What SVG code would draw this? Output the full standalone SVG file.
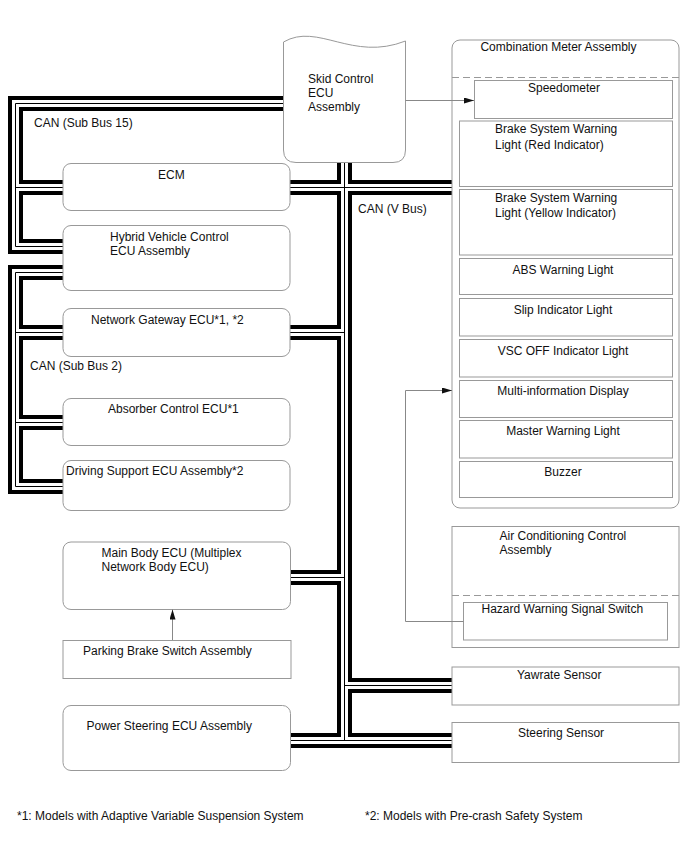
<svg xmlns="http://www.w3.org/2000/svg" xmlns:xlink="http://www.w3.org/1999/xlink" width="688" height="852" viewBox="0 0 688 852">
<style>
  text { font-family: "Liberation Sans", Arial, sans-serif; font-size: 12px; fill: #111; }
  .box { fill: #fff; stroke: #999; stroke-width: 1; }
  .dash { fill: none; stroke: #999; stroke-width: 1; stroke-dasharray: 7 4; }
  .conn { fill: none; stroke: #888; stroke-width: 1; }
  .b1 { fill: none; stroke: #000; stroke-width: 15; stroke-linejoin: miter; stroke-linecap: butt; }
  .b2 { fill: none; stroke: #fff; stroke-width: 7; stroke-linejoin: miter; stroke-linecap: butt; }
  .b3 { fill: none; stroke: #000; stroke-width: 1; stroke-linejoin: miter; stroke-linecap: butt; }
  .mid { text-anchor: middle; }
</style>
<defs>
  <path id="bus" d="M290,103.5 H15.5 V246.5 H70 M15.5,187.5 H70 M70,272.5 H15.5 V486.5 H70 M15.5,332.5 H70 M15.5,422.5 H70 M344.5,150 V740.5 M280,740.5 H460 M280,187.5 H460 M280,332.5 H344.5 M280,577.5 H344.5 M344.5,685.5 H460"/>
  <marker id="ah" viewBox="0 0 10 6" refX="10" refY="3" markerWidth="11" markerHeight="6" markerUnits="userSpaceOnUse" orient="auto">
    <path d="M0,0 L10,3 L0,6 Z" fill="#111"/>
  </marker>
</defs>
<rect width="688" height="852" fill="#fff"/>

<g id="buses">
  <use xlink:href="#bus" class="b1"/>
  <use xlink:href="#bus" class="b2"/>
  <use xlink:href="#bus" class="b3"/>
</g>

<g id="skid">
  <path class="box" d="M283.5,42 C318,22 352,62 405.5,41 V150 Q405.5,162.5 393,162.5 H296 Q283.5,162.5 283.5,150 Z"/>
  <text x="308" y="83">Skid Control</text>
  <text x="308" y="97">ECU</text>
  <text x="308" y="111">Assembly</text>
</g>

<g id="ecm">
  <rect class="box" x="63" y="163.5" width="227" height="47" rx="8"/>
  <text x="158" y="179">ECM</text>
</g>
<g id="hybrid">
  <rect class="box" x="63" y="225.5" width="227" height="65" rx="8"/>
  <text x="110" y="241">Hybrid Vehicle Control</text>
  <text x="110" y="255">ECU Assembly</text>
</g>
<g id="gateway">
  <rect class="box" x="63" y="308.5" width="227" height="48" rx="8"/>
  <text x="91" y="324">Network Gateway ECU*1, *2</text>
</g>
<g id="absorber">
  <rect class="box" x="63" y="398.5" width="227" height="47" rx="8"/>
  <text x="108" y="413">Absorber Control ECU*1</text>
</g>
<g id="driving">
  <rect class="box" x="63" y="460.5" width="227" height="50" rx="8"/>
  <text x="66" y="475">Driving Support ECU Assembly*2</text>
</g>
<g id="mainbody">
  <rect class="box" x="63" y="542" width="227.5" height="67.5" rx="8"/>
  <text x="101.5" y="557">Main Body ECU (Multiplex</text>
  <text x="101.5" y="571">Network Body ECU)</text>
</g>
<g id="parking">
  <rect class="box" x="63" y="640.5" width="228" height="38"/>
  <text x="83" y="655">Parking Brake Switch Assembly</text>
</g>
<g id="powersteering">
  <rect class="box" x="63" y="705.5" width="227.5" height="65" rx="8"/>
  <text x="86.5" y="730">Power Steering ECU Assembly</text>
</g>

<g id="combimeter">
  <rect class="box" x="452" y="40" width="227" height="468" rx="8"/>
  <line class="dash" x1="452" y1="77.5" x2="679" y2="77.5"/>
  <text x="558.5" y="51" class="mid">Combination Meter Assembly</text>
</g>
<g id="speedometer">
  <rect class="box" x="474.5" y="80.5" width="198" height="38"/>
  <text x="564" y="92" class="mid">Speedometer</text>
</g>
<g id="brakered">
  <rect class="box" x="459.5" y="121" width="213" height="65.5"/>
  <text x="495" y="133">Brake System Warning</text>
  <text x="495" y="148.5">Light (Red Indicator)</text>
</g>
<g id="brakeyellow">
  <rect class="box" x="459.5" y="189.5" width="213" height="65.5"/>
  <text x="495" y="202">Brake System Warning</text>
  <text x="495" y="217">Light (Yellow Indicator)</text>
</g>
<g id="abs">
  <rect class="box" x="459.5" y="258.5" width="213" height="36"/>
  <text x="563" y="274" class="mid">ABS Warning Light</text>
</g>
<g id="slip">
  <rect class="box" x="459.5" y="298.5" width="213" height="37.5"/>
  <text x="563" y="314" class="mid">Slip Indicator Light</text>
</g>
<g id="vscoff">
  <rect class="box" x="459.5" y="339.5" width="213" height="37.5"/>
  <text x="563" y="355" class="mid">VSC OFF Indicator Light</text>
</g>
<g id="mid">
  <rect class="box" x="459.5" y="380.5" width="213" height="37"/>
  <text x="563" y="395" class="mid">Multi-information Display</text>
</g>
<g id="master">
  <rect class="box" x="459.5" y="420.5" width="213" height="37.5"/>
  <text x="563" y="435" class="mid">Master Warning Light</text>
</g>
<g id="buzzer">
  <rect class="box" x="459.5" y="461.5" width="213" height="36"/>
  <text x="563" y="476" class="mid">Buzzer</text>
</g>

<g id="aircon">
  <rect class="box" x="452" y="526.5" width="227" height="121"/>
  <line class="dash" x1="452" y1="595.5" x2="679" y2="595.5"/>
  <text x="499.5" y="540">Air Conditioning Control</text>
  <text x="499.5" y="554">Assembly</text>
</g>
<g id="hazard">
  <rect class="box" x="463.5" y="602.5" width="204" height="37.5"/>
  <text x="481.5" y="613">Hazard Warning Signal Switch</text>
</g>
<g id="yawrate">
  <rect class="box" x="452" y="667" width="227" height="38"/>
  <text x="517" y="679">Yawrate Sensor</text>
</g>
<g id="steering">
  <rect class="box" x="452" y="722.5" width="227" height="40"/>
  <text x="518" y="737">Steering Sensor</text>
</g>

<g id="connectors">
  <path class="conn" d="M405.5,100.5 H474" marker-end="url(#ah)"/>
  <path class="conn" d="M463.5,621.5 H405.5 V390.5 H452" marker-end="url(#ah)"/>
  <path class="conn" d="M172.5,640 V609.5" marker-end="url(#ah)"/>
</g>

<g id="labels">
  <text x="34" y="127">CAN (Sub Bus 15)</text>
  <text x="30" y="370">CAN (Sub Bus 2)</text>
  <text x="358" y="213">CAN (V Bus)</text>
  <text x="17" y="820">*1: Models with Adaptive Variable Suspension System</text>
  <text x="365" y="820">*2: Models with Pre-crash Safety System</text>
</g>
</svg>
